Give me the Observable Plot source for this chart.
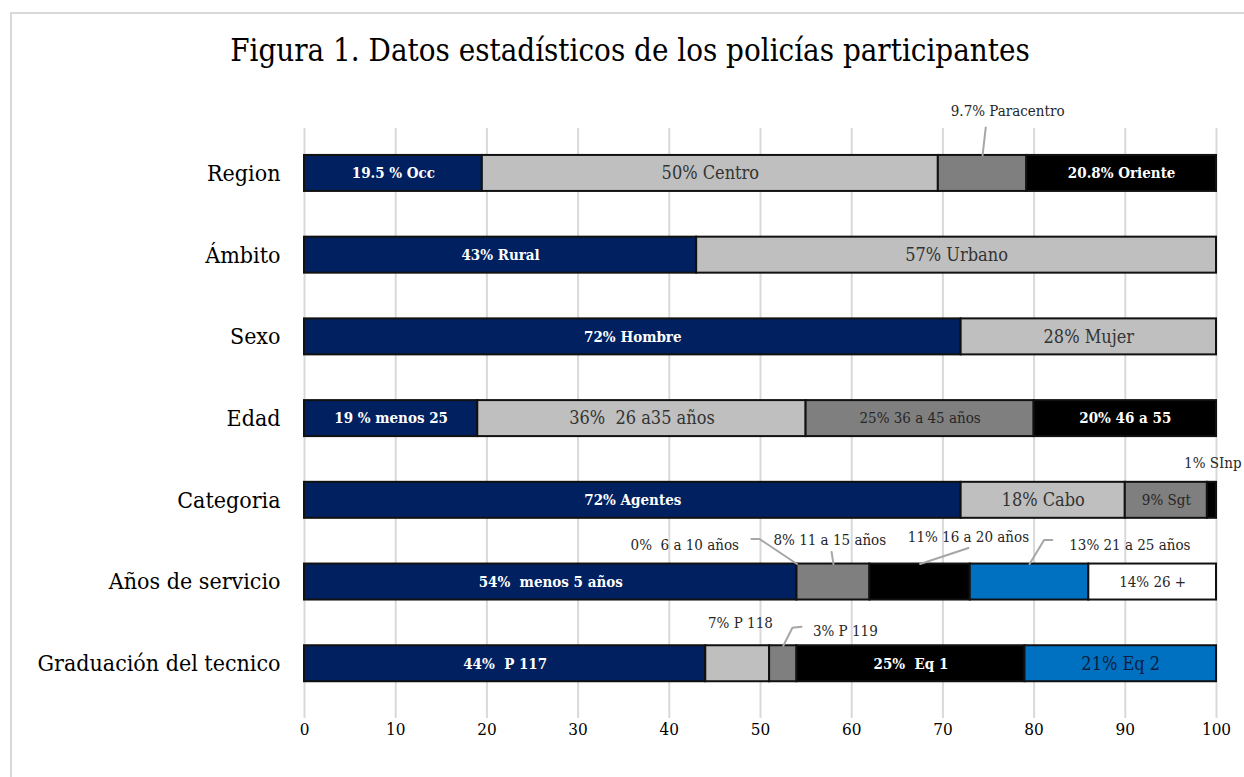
<!DOCTYPE html>
<html><head><meta charset="utf-8">
<script src="https://cdn.jsdelivr.net/npm/d3@7"></script>
<script src="https://cdn.jsdelivr.net/npm/@observablehq/plot@0.6"></script>
<style>
body{margin:0;background:#fff;width:1244px;height:777px;overflow:hidden;position:relative;font-family:"DejaVu Serif Condensed","DejaVu Serif",serif}
#frame{position:absolute;left:10px;top:12px;width:1270px;height:820px;border:2px solid #d9d9d9;box-sizing:border-box}
#title{position:absolute;left:10px;top:31px;width:1240px;text-align:center;font-size:31px;color:#000;line-height:38px}
#chart{position:absolute;left:0;top:90px}
svg text{white-space:pre}
</style></head>
<body>
<div id="frame"></div>
<div id="title">Figura 1. Datos estadísticos de los policías participantes</div>
<div id="chart"></div>
<script>
// ---- data ----
const categories = ["Region","Ámbito","Sexo","Edad","Categoria","Años de servicio","Graduación del tecnico"];
const regionValues = [19.5, 50, 9.7, 20.8];
const regionLabels = ["19.5 % Occ","50% Centro","9.7% Paracentro","20.8% Oriente"];
const ambitoValues = [43, 57];
const ambitoLabels = ["43% Rural","57% Urbano"];
const sexoValues = [72, 28];
const sexoLabels = ["72% Hombre","28% Mujer"];
const edadValues = [19, 36, 25, 20];
const edadLabels = ["19 % menos 25","36%  26 a35 años","25% 36 a 45 años","20% 46 a 55"];
const categoriaValues = [72, 18, 9, 1];
const categoriaLabels = ["72% Agentes","18% Cabo","9% Sgt","1% SInp"];
const servicioValues = [54, 0, 8, 11, 13, 14];
const servicioLabels = ["54%  menos 5 años","0%  6 a 10 años","8% 11 a 15 años","11% 16 a 20 años","13% 21 a 25 años","14% 26 +"];
const graduacionValues = [44, 7, 3, 25, 21];
const graduacionLabels = ["44%  P 117","7% P 118","3% P 119","25%  Eq 1","21% Eq 2"];
const xTicks = [0,10,20,30,40,50,60,70,80,90,100];

// ---- styles ----
const FONT = "DejaVu Serif Condensed, DejaVu Serif, serif";
const fills = ["#002060","#bfbfbf","#7f7f7f","#000000","#0070c0","#ffffff"];
const textColors = ["#ffffff","#333333","#262626","#ffffff","#0c1f3f","#262626"];
const boldIdx = new Set([0, 3]);
const bigLabels = new Set(["50% Centro","57% Urbano","28% Mujer","36%  26 a35 años","18% Cabo","21% Eq 2"]);
// outside annotations: label position (x in data units, y offset px from row centre) and leader elbow points
const outside = {
  "9.7% Paracentro": {lx:77.1, ly:-62, path:[[74.7,-46]]},
  "1% SInp": {lx:99.6, ly:-37, path:null},
  "0%  6 a 10 años": {lx:41.7, ly:-37, path:[[49.0,-43],[49.9,-43]]},
  "8% 11 a 15 años": {lx:57.6, ly:-42, path:[[57.8,-30]]},
  "11% 16 a 20 años": {lx:72.8, ly:-45, path:[[72.8,-34]]},
  "13% 21 a 25 años": {lx:90.5, ly:-37, path:[[82.0,-42],[81.1,-42]]},
  "7% P 118": {lx:47.8, ly:-41, path:null},
  "3% P 119": {lx:59.3, ly:-33, path:[[54.5,-37],[53.5,-36]]}
};

const rows = [
  [regionValues, regionLabels],[ambitoValues, ambitoLabels],[sexoValues, sexoLabels],
  [edadValues, edadLabels],[categoriaValues, categoriaLabels],[servicioValues, servicioLabels],
  [graduacionValues, graduacionLabels]
];

const W = 1244, H = 687, mT = 38, mB = 59, mL = 304, mR = 28;
const yDomain = [-0.55, 6.67];
const pxPerRow = (H - mT - mB) / (yDomain[1] - yDomain[0]);
const half = 18 / pxPerRow;

const segs = [];
rows.forEach(([vals, labs], r) => {
  let acc = 0;
  vals.forEach((v, i) => {
    segs.push({row: r, i, x1: acc, x2: acc + v, label: labs[i], inside: !(labs[i] in outside)});
    acc += v;
  });
});

const insideSegs = segs.filter(d => d.inside);
const outSegs = segs.filter(d => !d.inside);
const annText = outSegs.map(d => ({text: d.label, x: outside[d.label].lx, y: d.row + outside[d.label].ly / pxPerRow}));
const leaders = [];
outSegs.forEach(d => {
  const o = outside[d.label];
  if (!o.path) return;
  const pts = o.path.map(([x, dy]) => ({x, y: d.row + dy / pxPerRow, id: d.label}));
  pts.push({x: (d.x1 + d.x2) / 2, y: d.row - half, id: d.label});
  leaders.push(...pts);
});

const textMark = (subset) => Plot.text(subset, {x: d => (d.x1 + d.x2) / 2, y: "row", text: "label",
      fill: d => textColors[d.i], fontSize: d => bigLabels.has(d.label) ? 18 : 15,
      fontWeight: boldIdx.has(subset[0] ? subset[0].i : 0) ? "bold" : "normal"});

const chart = Plot.plot({
  width: W, height: H, marginTop: mT, marginBottom: mB, marginLeft: mL, marginRight: mR,
  style: {fontFamily: FONT, background: "transparent", overflow: "visible"},
  x: {domain: [0, 100]},
  y: {domain: yDomain, reverse: true, axis: null},
  marks: [
    Plot.ruleX(xTicks, {stroke: "#d9d9d9", strokeWidth: 2}),
    Plot.rect(segs, {x1: "x1", x2: "x2", y1: d => d.row - half, y2: d => d.row + half,
      fill: d => fills[d.i], stroke: "#111", strokeWidth: 2}),
    textMark(insideSegs.filter(d => boldIdx.has(d.i))),
    textMark(insideSegs.filter(d => !boldIdx.has(d.i))),
    Plot.line(leaders, {x: "x", y: "y", z: "id", stroke: "#a6a6a6", strokeWidth: 2}),
    Plot.text(annText, {x: "x", y: "y", text: "text", fill: "#262626", fontSize: 15}),
    Plot.text(categories, {x: () => 0, y: (d, i) => i, text: d => d, dx: -24, textAnchor: "end", fontSize: 23, fill: "#000"}),
    Plot.axisX(xTicks, {tickSize: 0, tickPadding: 4, fontSize: 17, fill: "#000", label: null})
  ]
});
document.getElementById("chart").appendChild(chart);
</script>
</body></html>
